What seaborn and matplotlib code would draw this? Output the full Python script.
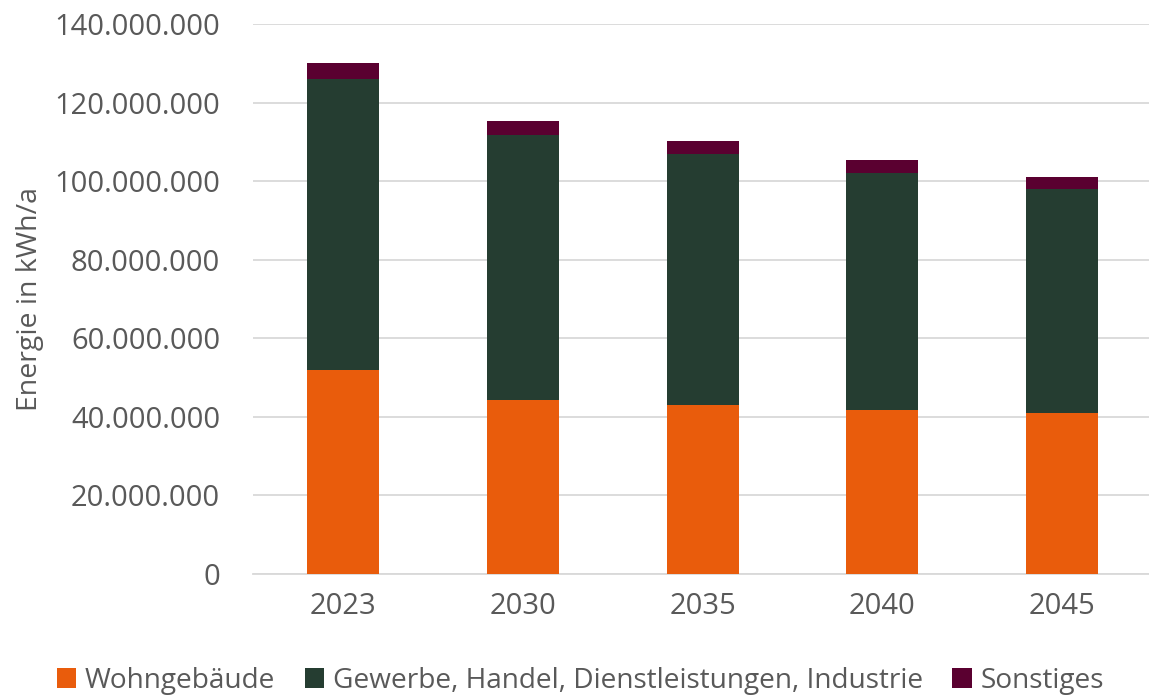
import matplotlib
matplotlib.use("Agg")
import matplotlib.pyplot as plt
from matplotlib.ticker import FuncFormatter, MultipleLocator
from matplotlib.patches import Patch
import seaborn as sns
import numpy as np
import pandas as pd

years = ["2023", "2030", "2035", "2040", "2045"]
wohngebaeude = [52.0e6, 44.2e6, 43.0e6, 41.8e6, 41.0e6]
gewerbe = [74.0e6, 67.5e6, 63.8e6, 60.4e6, 57.1e6]
sonstiges = [4.0e6, 3.6e6, 3.3e6, 3.1e6, 3.0e6]

series_names = ["Wohngebäude", "Gewerbe, Handel, Dienstleistungen, Industrie", "Sonstiges"]
series_values = [wohngebaeude, gewerbe, sonstiges]
colors = ["#E95C0C", "#253D31", "#5A0030"]
text_color = "#595959"

sns.set_theme(style="white")
plt.rcParams["font.family"] = ["Open Sans", "DejaVu Sans"]

fig = plt.figure(figsize=(11.49, 6.95), dpi=100)
ax = fig.add_axes([0.2205, 0.174, 0.782, 0.7915])

bottom = np.zeros(len(years))
for name, vals, col in zip(series_names, series_values, colors):
    df = pd.DataFrame({"Jahr": years, "Wert": vals})
    sns.barplot(data=df, x="Jahr", y="Wert", color=col, width=0.40,
                bottom=bottom, ax=ax, saturation=1, edgecolor="none", zorder=3)
    bottom = bottom + np.array(vals)

ax.set_ylim(0, 140e6)
ax.set_xlim(-0.5, len(years) - 0.5)
ax.yaxis.set_major_locator(MultipleLocator(20e6))
ax.yaxis.set_major_formatter(FuncFormatter(lambda v, p: f"{int(round(v)):,}".replace(",", ".")))
ax.grid(axis="y", color="#D9D9D9", linewidth=1.3, zorder=0)
ax.set_axisbelow(True)
for s in ["top", "right", "left"]:
    ax.spines[s].set_visible(False)
ax.spines["bottom"].set_color("#D9D9D9")
ax.spines["bottom"].set_linewidth(1.3)
ax.tick_params(axis="both", length=0, labelsize=21, colors=text_color)
ax.tick_params(axis="y", pad=24)
ax.tick_params(axis="x", pad=13)
ax.set_xlabel("")
ax.set_ylabel("Energie in kWh/a", fontsize=20.5, color=text_color, labelpad=7)

handles = [Patch(facecolor=c, edgecolor="none") for c in colors]
fig.legend(handles, series_names, loc="lower center", bbox_to_anchor=(0.505, -0.036),
           ncol=3, frameon=False, fontsize=20.2, labelcolor=text_color,
           handlelength=0.7, handleheight=0.7, handletextpad=0.3, columnspacing=1.05)

fig.savefig("out.png", dpi=100)
